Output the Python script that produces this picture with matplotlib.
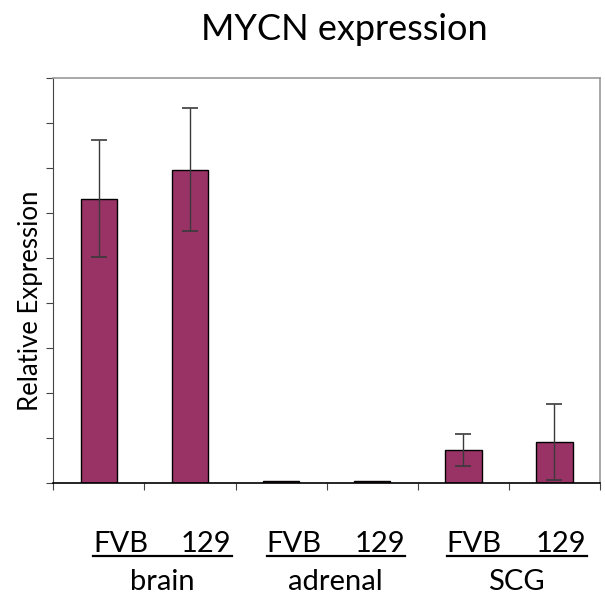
import matplotlib.pyplot as plt
from matplotlib.lines import Line2D

plt.rcParams['font.family'] = ['Lato', 'DejaVu Sans']

strains = ['FVB', '129', 'FVB', '129', 'FVB', '129']
tissues = ['brain', 'adrenal', 'SCG']
expr = [6.32, 6.96, 0.03, 0.03, 0.73, 0.91]
err = [1.30, 1.37, 0.0, 0.0, 0.36, 0.85]

bar_color = '#993366'

fig = plt.figure(figsize=(6.05, 6.01), dpi=100)
ax = fig.add_axes([0.0881, 0.1968, 0.9036, 0.6734])

x = list(range(len(expr)))
ax.bar(x, expr, width=0.4, color=bar_color, edgecolor='black', linewidth=1.0, zorder=2)
for xi, v, e in zip(x, expr, err):
    if e > 0:
        ax.errorbar(xi, v, yerr=e, fmt='none', ecolor='#3a3a3a', elinewidth=1.0,
                    capsize=6, capthick=1.2, zorder=3)

ax.set_xlim(-0.5, len(expr) - 0.5)
ax.set_ylim(0, 9)
ax.set_yticks(range(10))
ax.set_yticklabels([])
ax.set_xticks([i - 0.5 for i in range(len(expr) + 1)])
ax.set_xticklabels([])
ax.tick_params(axis='y', direction='out', length=5, width=0.8, colors='#444444')
ax.tick_params(axis='x', direction='out', length=5, width=0.8, colors='#444444')

ax.spines['left'].set_color('#444444')
ax.spines['bottom'].set_color('black')
ax.spines['bottom'].set_linewidth(1.2)
for s in ['top', 'right']:
    ax.spines[s].set_color('#999999')
    ax.spines[s].set_linewidth(1.2)

fig.text(344 / 605, 1 - 40 / 601, 'MYCN expression', ha='center', va='baseline', fontsize=26)
fig.text(31 / 605, 1 - 301 / 601, 'Relative Expression', rotation=90,
         ha='center', va='center', fontsize=18.5)

# strain labels with underline, tissue below
group_spans = [(93.3, 231.7), (266.6, 404.8), (446.7, 586.7)]
for (x0, x1), tissue in zip(group_spans, tissues):
    fig.text(x0 / 605, 1 - 551.7 / 601, 'FVB', ha='left', va='baseline', fontsize=21)
    fig.text(x1 / 605, 1 - 551.7 / 601, '129', ha='right', va='baseline', fontsize=21)
    fig.add_artist(Line2D([x0 / 605, x1 / 605], [1 - 556 / 601, 1 - 556 / 601],
                          color='black', linewidth=1.6))
    fig.text((x0 + x1) / 2 / 605, 1 - 590 / 601, tissue, ha='center', va='baseline', fontsize=21)

fig.savefig('out.png', dpi=100)
